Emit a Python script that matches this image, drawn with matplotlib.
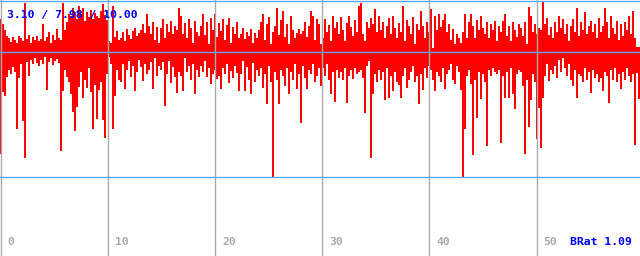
import matplotlib
matplotlib.use("Agg")
import matplotlib.pyplot as plt
import numpy as np

# upper / lower excursion of each column around the centre line
hi = [33, 28, 22, 16, 14, 10, 15, 12, 9, 16,
      14, 11, 49, 13, 17, 9, 15, 12, 16, 11,
      13, 28, 11, 15, 20, 9, 17, 12, 23, 14,
      12, 49, 22, 30, 38, 36, 44, 40, 33, 46,
      38, 44, 31, 40, 35, 42, 33, 39, 36, 34,
      41, 48, 37, 32, 11, 9, 46, 15, 21, 12,
      14, 20, 11, 23, 17, 13, 21, 24, 16, 19,
      22, 28, 19, 38, 26, 18, 30, 12, 25, 9,
      24, 33, 14, 28, 20, 31, 18, 26, 22, 44,
      36, 18, 29, 14, 33, 24, 9, 31, 20, 16,
      26, 38, 17, 30, 8, 34, 22, 38, 15, 29,
      21, 33, 12, 27, 34, 9, 25, 18, 30, 14,
      18, 24, 13, 20, 16, 23, 9, 19, 14, 22,
      30, 38, 12, 28, 35, 8, 20, 26, 44, 17,
      32, 41, 15, 28, 8, 36, 22, 14, 19, 23,
      18, 21, 30, 15, 26, 41, 36, 12, 33, 28,
      8, 14, 33, 20, 27, 11, 36, 24, 30, 18,
      35, 22, 11, 29, 36, 25, 16, 32, 20, 46,
      49, 18, 11, 30, 24, 34, 28, 43, 20, 36,
      22, 30, 14, 26, 34, 18, 36, 24, 14, 29,
      20, 46, 11, 32, 26, 18, 35, 8, 28, 22,
      41, 26, 14, 30, 20, 43, 4, 36, 22, 38,
      25, 32, 38, 20, 28, 12, 23, 8, 18, 14,
      9, 20, 38, 14, 30, 38, 26, 14, 32, 22,
      36, 24, 18, 30, 14, 28, 22, 31, 11, 26,
      20, 31, 38, 16, 26, 11, 30, 22, 15, 28,
      24, 16, 30, 8, 45, 36, 20, 28, 18, 24,
      22, 50, 28, 34, 17, 25, 14, 30, 20, 36,
      24, 33, 18, 28, 11, 26, 33, 20, 44, 16,
      30, 22, 40, 18, 26, 31, 20, 28, 14, 34,
      20, 26, 44, 30, 14, 36, 24, 18, 31, 12,
      28, 16, 30, 22, 36, 18, 41, 14, 5, 5]

lo = [102, 40, 44, 25, 18, 22, 15, 20, 77, 26,
      12, 69, 106, 10, 24, 8, 12, 6, 11, 14,
      8, 12, 5, 38, 10, 6, 13, 9, 7, 11,
      99, 39, 18, 25, 30, 42, 60, 79, 55, 35,
      20, 46, 28, 36, 16, 40, 77, 33, 67, 38,
      30, 68, 86, 22, 5, 12, 77, 44, 18, 28,
      30, 12, 37, 18, 9, 25, 14, 39, 20, 8,
      15, 29, 12, 22, 18, 10, 37, 6, 24, 14,
      18, 10, 54, 22, 9, 31, 15, 25, 41, 20,
      24, 39, 6, 20, 14, 28, 12, 42, 18, 25,
      14, 20, 9, 25, 16, 32, 22, 18, 27, 24,
      37, 16, 22, 12, 31, 19, 26, 14, 21, 39,
      22, 9, 39, 15, 28, 42, 11, 30, 18, 24,
      16, 36, 22, 52, 14, 30, 125, 20, 28, 52,
      18, 24, 34, 16, 42, 20, 28, 12, 37, 22,
      71, 14, 26, 37, 18, 22, 12, 30, 24, 16,
      34, 16, 24, 12, 28, 42, 20, 50, 18, 26,
      20, 28, 16, 51, 24, 18, 27, 16, 22, 20,
      18, 26, 61, 14, 9, 106, 42, 22, 30, 18,
      28, 20, 48, 16, 46, 24, 39, 20, 30, 33,
      46, 24, 16, 36, 28, 20, 14, 30, 24, 52,
      22, 38, 16, 26, 14, 18, 28, 39, 20, 24,
      30, 16, 37, 22, 18, 12, 28, 32, 14, 20,
      38, 125, 77, 24, 18, 32, 103, 28, 66, 20,
      47, 22, 30, 94, 18, 24, 16, 20, 22, 18,
      91, 24, 46, 20, 46, 16, 42, 57, 22, 18,
      20, 34, 102, 28, 75, 48, 22, 30, 87, 56,
      96, 46, 24, 12, 29, 18, 22, 14, 26, 8,
      20, 6, 16, 24, 12, 28, 34, 18, 46, 22,
      24, 30, 16, 28, 20, 41, 18, 26, 22, 30,
      26, 39, 20, 24, 51, 18, 28, 16, 30, 22,
      37, 20, 28, 16, 24, 30, 22, 93, 21, 47]

x_ticks = [0, 10, 20, 30, 40, 50]
h_lines = [51, 0, -125]
stats_text = "3.10 / 7.98 / 10.00"
ratio_text = "BRat 1.09"

x_min, x_max = -0.065, 59.64
y_min, y_max = -204.5, 51.5

fig = plt.figure(figsize=(6.4, 2.56), dpi=100)
ax = fig.add_axes([0, 0, 1, 1])
ax.set_xlim(x_min, x_max)
ax.set_ylim(y_min, y_max)
ax.axis("off")

hi = np.array(hi)
lo = np.array(lo)
step = (x_max - x_min) / len(hi)
xs = x_min + np.arange(len(hi)) * step
ax.bar(xs, hi + lo, bottom=-lo, width=step, align="edge",
       color="#ff0000", linewidth=0, antialiased=False, zorder=2)

for xv in x_ticks:
    ax.axvline(xv, color="#aaaaaa", linewidth=1.0, zorder=3)
    ax.text(xv + 0.65, -190.5, str(xv), color="#aaaaaa", fontsize=8.2,
            family="DejaVu Sans Mono", weight="bold", va="center", ha="left")

for yv in h_lines:
    ax.axhline(yv, color="#55aaff", linewidth=1.0, zorder=4)

font = dict(family="DejaVu Sans Mono", weight="bold", fontsize=8.2, color="#0000ee")
ax.text(0.011, 0.94, stats_text, transform=ax.transAxes, va="center", ha="left", zorder=5, **font)
ax.text(0.988, 0.055, ratio_text, transform=ax.transAxes, va="center", ha="right", zorder=5, **font)

fig.savefig("out.png", dpi=100)
